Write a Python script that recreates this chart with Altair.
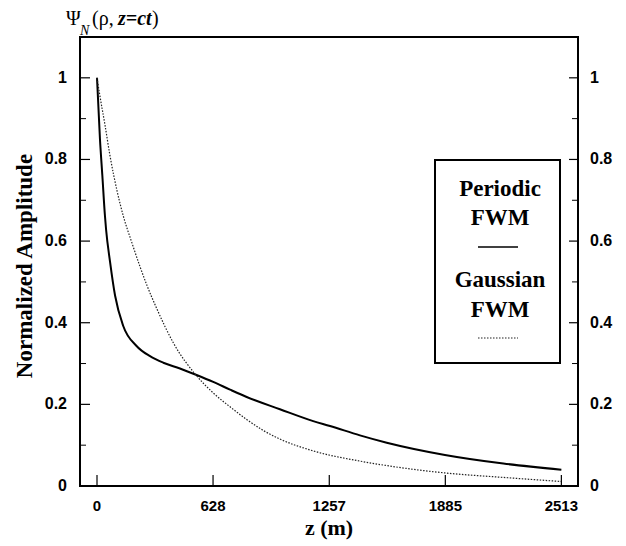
import altair as alt
import pandas as pd

# ---- data ----
periodic_z = [0, 16, 29, 43, 49, 71, 98, 142, 214, 287, 359, 449, 539, 629, 720, 810, 990, 1170, 1261, 1423, 1568, 1883, 2199, 2513]
periodic_y = [1.0, 0.85, 0.76, 0.662, 0.629, 0.548, 0.466, 0.392, 0.343, 0.318, 0.302, 0.288, 0.272, 0.255, 0.236, 0.218, 0.188, 0.159, 0.147, 0.124, 0.106, 0.076, 0.055, 0.040]

gauss_z = [0, 16, 43, 70, 110, 142, 188, 233, 269, 323, 414, 539, 629, 720, 810, 900, 990, 1170, 1423, 1568, 1883, 2199, 2513]
gauss_y = [1.0, 0.955, 0.885, 0.81, 0.72, 0.662, 0.597, 0.537, 0.493, 0.435, 0.350, 0.270, 0.228, 0.194, 0.163, 0.136, 0.115, 0.086, 0.061, 0.050, 0.032, 0.021, 0.011]

x_ticks = [0, 628, 1257, 1885, 2513]
x_tick_labels = ["0", "628", "1257", "1885", "2513"]
y_ticks = [0, 0.2, 0.4, 0.6, 0.8, 1.0]
y_tick_labels = ["0", "0.2", "0.4", "0.6", "0.8", "1"]
y_minor = [0.1, 0.3, 0.5, 0.7, 0.9]

W, H = 498, 449
xs = alt.Scale(domain=[-92, 2603], nice=False, zero=False)
ys = alt.Scale(domain=[0, 1.1], nice=False, zero=False)

df_p = pd.DataFrame({"z": periodic_z, "a": periodic_y})
df_g = pd.DataFrame({"z": gauss_z, "a": gauss_y})
df_xt = pd.DataFrame({"v": x_ticks, "lab": x_tick_labels})
df_yt = pd.DataFrame({"v": y_ticks, "lab": y_tick_labels})
df_ym = pd.DataFrame({"v": y_minor})

X = lambda f: alt.X(f, scale=xs, axis=None)
Y = lambda f: alt.Y(f, scale=ys, axis=None)

one = alt.Data(values=[{}])

periodic = alt.Chart(df_p).mark_line(color="black", strokeWidth=2, interpolate="monotone").encode(
    x=X("z:Q"), y=Y("a:Q"), order="z:Q")
gauss = alt.Chart(df_g).mark_line(color="#222", strokeWidth=1.2, strokeDash=[1.5, 1.5],
                                  interpolate="monotone").encode(
    x=X("z:Q"), y=Y("a:Q"), order="z:Q")

# ticks (inward)
yl_major = alt.Chart(df_yt).mark_rule(color="black", strokeWidth=1.2).encode(
    y=Y("v:Q"), x=alt.value(0), x2=alt.value(10))
yl_minor = alt.Chart(df_ym).mark_rule(color="black", strokeWidth=1).encode(
    y=Y("v:Q"), x=alt.value(0), x2=alt.value(6))
yr_major = alt.Chart(df_yt).mark_rule(color="black", strokeWidth=1.2).encode(
    y=Y("v:Q"), x=alt.value(W - 9), x2=alt.value(W))
yr_minor = alt.Chart(df_ym).mark_rule(color="black", strokeWidth=1).encode(
    y=Y("v:Q"), x=alt.value(W - 6), x2=alt.value(W))
xb_major = alt.Chart(df_xt).mark_rule(color="black", strokeWidth=1.2).encode(
    x=X("v:Q"), y=alt.value(H - 11), y2=alt.value(H))

# tick labels
lab_font = dict(font="Liberation Sans", fontWeight="bold", fontSize=16, color="black")
yl_lab = alt.Chart(df_yt).mark_text(align="right", baseline="middle", **lab_font).encode(
    y=Y("v:Q"), x=alt.value(-13), text="lab:N")
yr_lab = alt.Chart(df_yt).mark_text(align="left", baseline="middle", **lab_font).encode(
    y=Y("v:Q"), x=alt.value(W + 12), text="lab:N")
xb_lab = alt.Chart(df_xt).mark_text(align="center", baseline="middle",
                                    font="Liberation Sans", fontWeight="bold", fontSize=15, color="black").encode(
    x=X("v:Q"), y=alt.value(H + 20), text="lab:N")

serif = "Liberation Serif"

def txt(s, x, y, size, weight="bold", style="normal", align="center", baseline="middle", angle=0):
    kw = dict(font=serif, fontSize=size, fontWeight=weight, fontStyle=style,
              align=align, baseline=baseline, color="black")
    if angle:
        kw["angle"] = angle
    return alt.Chart(one).mark_text(**kw).encode(
        x=alt.value(x), y=alt.value(y), text=alt.value(s))

ytitle = txt("Normalized Amplitude", -55, 229, 23, angle=270)
xtitle = txt("z (m)", 249, 491, 22)

t1 = txt("Ψ", -14, -12, 20, weight="normal", align="left", baseline="alphabetic")
t2 = txt("N", 0, -2, 14, weight="normal", style="italic", align="left", baseline="alphabetic")
t3 = txt("(ρ, ", 12, -12, 20, weight="normal", align="left", baseline="alphabetic")
t4 = txt("z=ct", 38, -12, 20, weight="bold", style="italic", align="left", baseline="alphabetic")
t5 = txt(" )", 72, -12, 20, weight="normal", align="left", baseline="alphabetic")

# legend
box = alt.Chart(one).mark_rect(fill="white", stroke="black", strokeWidth=2).encode(
    x=alt.value(355), x2=alt.value(480), y=alt.value(123), y2=alt.value(326))
l1 = txt("Periodic", 420, 152, 23)
l2 = txt("FWM", 420, 181, 23)
l3 = alt.Chart(one).mark_rule(color="black", strokeWidth=1.5).encode(
    x=alt.value(398), x2=alt.value(438), y=alt.value(210))
l4 = txt("Gaussian", 420, 243, 23)
l5 = txt("FWM", 420, 273, 23)
l6 = alt.Chart(one).mark_rule(color="#222", strokeWidth=1.2, strokeDash=[1.5, 1.5]).encode(
    x=alt.value(398), x2=alt.value(438), y=alt.value(301))

chart = alt.layer(
    periodic, gauss,
    yl_major, yl_minor, yr_major, yr_minor, xb_major,
    yl_lab, yr_lab, xb_lab,
    ytitle, xtitle, t1, t2, t3, t4, t5,
    box, l1, l2, l3, l4, l5, l6,
).properties(
    width=W, height=H,
    autosize=alt.AutoSizeParams(type="none"),
    padding={"left": 80, "top": 37, "right": 48, "bottom": 60},
    background="white",
).configure_view(stroke="black", strokeWidth=2)

chart.save("out.html", embed_options={"renderer": "svg", "actions": False})
